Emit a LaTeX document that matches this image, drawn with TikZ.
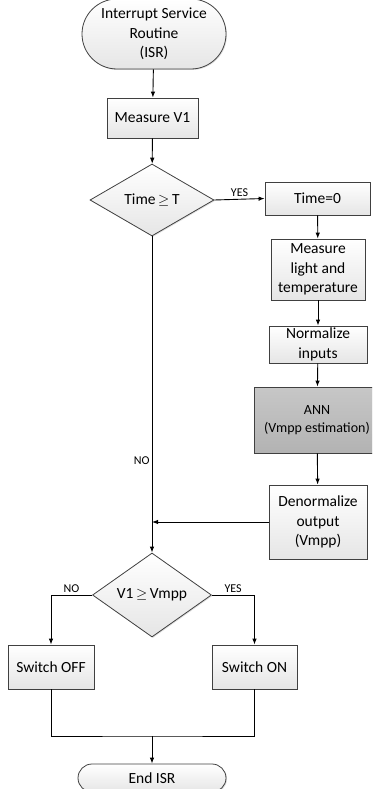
\documentclass[tikz,border=0pt]{standalone}
\usepackage{fontspec}
\setmainfont{Carlito}
\usetikzlibrary{arrows.meta,shapes.geometric,shapes.misc,shadows}

\tikzset{
  box/.style={draw=black!75,line width=0.8pt,top color=white,bottom color=black!10,
    drop shadow={shadow xshift=1pt,shadow yshift=-1pt,opacity=0.25},
    align=center,inner sep=1pt},
  term/.style={box,rounded rectangle},
  cond/.style={box,diamond,aspect=1.7,inner sep=0pt},
  lbl/.style={font=\fontsize{12}{14}\selectfont,inner sep=2pt},
  flow/.style={-{Latex[length=6pt,width=4.5pt]},line width=0.9pt},
}

\begin{document}
\begin{tikzpicture}[x=1pt,y=-1pt,font=\fontsize{15.5}{19.5}\selectfont]
  \useasboundingbox (0,0) rectangle (372,789);
  \clip (0,0) rectangle (372,789);

  % main column
  \node[term,minimum width=146,minimum height=70] (isr) at (154,34) {Interrupt Service\\Routine\\(ISR)};
  \node[box,minimum width=91,minimum height=40] (mv1) at (152.5,118) {Measure V1};
  \node[cond,minimum width=124,minimum height=72] (tchk) at (152,200) {Time\,$\geq$\,T};

  % estimation branch
  \node[box,minimum width=105,minimum height=33] (tzero) at (317.5,198.5) {Time=0};
  \node[box,minimum width=94,minimum height=61] (mlt) at (318,269.5) {Measure\\light and\\temperature};
  \node[box,minimum width=98,minimum height=37] (norm) at (318,344.5) {Normalize\\inputs};
  \node[box,top color=black!22,bottom color=black!30,minimum width=126,minimum height=66,
    font=\fontsize{14}{18}\selectfont] (ann) at (317,420) {ANN\\(Vmpp estimation)};
  \node[box,minimum width=98,minimum height=74] (denorm) at (318,522) {Denormalize\\output\\(Vmpp)};

  % switching
  \node[cond,minimum width=119,minimum height=84] (vchk) at (152,595) {V1\,$\geq$\,Vmpp};
  \node[box,minimum width=86,minimum height=44] (off) at (51,667) {Switch OFF};
  \node[box,minimum width=85,minimum height=44] (on) at (254.5,667) {Switch ON};
  \node[term,minimum width=150,minimum height=28] (endisr) at (152,778) {End ISR};
  \coordinate (mrg) at (152,736);

  \draw[flow] (isr) -- (mv1);
  \draw[flow] (mv1) -- (tchk);
  \draw[flow] (tchk.east) -- (tzero.west) node[lbl,midway,above]{YES};
  \draw[flow] (tzero) -- (mlt);
  \draw[flow] (mlt) -- (norm);
  \draw[flow] (norm) -- (ann);
  \draw[flow] (ann) -- (denorm);
  \draw[flow] (denorm.west) -- (denorm.west -| tchk.south);
  \draw[flow] (tchk.south) -- (vchk.north) node[lbl,pos=0.71,left]{NO};
  \draw[flow] (vchk.west) -| (off.north) node[lbl,pos=0.25,above]{NO};
  \draw[flow] (vchk.east) -| (on.north) node[lbl,pos=0.25,above]{YES};
  \draw[line width=0.9pt] (off.south) |- (mrg) -| (on.south);
  \draw[flow] (mrg) -- (endisr.north);
\end{tikzpicture}
\end{document}
